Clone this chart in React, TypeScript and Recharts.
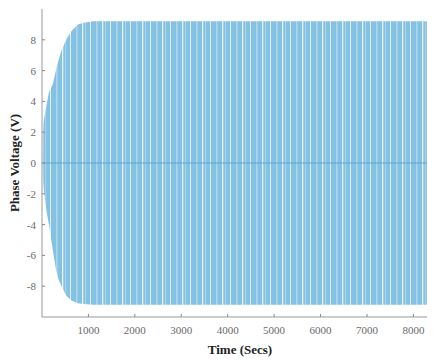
import React from 'react'
import { ComposedChart, Area, XAxis, YAxis, ReferenceLine } from 'recharts'

// envelope of the phase voltage (V)
const timeSecs = [0, 30, 100, 150, 230, 300, 350, 420, 520, 620, 770, 900, 1100, 1500, 2000, 3000, 4000, 5000, 6000, 7000, 8000, 8600]
const upperEnv = [0, 2.6, 3.8, 4.6, 5.1, 6.0, 6.6, 7.3, 8.0, 8.5, 9.0, 9.1, 9.2, 9.2, 9.2, 9.2, 9.2, 9.2, 9.2, 9.2, 9.2, 9.2]
const lowerEnv = [0, -1.5, -3.2, -4.0, -5.6, -6.9, -7.5, -8.0, -8.6, -8.9, -9.1, -9.15, -9.2, -9.2, -9.2, -9.2, -9.2, -9.2, -9.2, -9.2, -9.2, -9.2]

const xTicks = [1000, 2000, 3000, 4000, 5000, 6000, 7000, 8000]
const yTicks = [-8, -6, -4, -2, 0, 2, 4, 6, 8]

const data = timeSecs.map((t, i) => ({ t, range: [lowerEnv[i], upperEnv[i]] }))

const tickStyle = { fontSize: 11, fill: '#6a6a6a', fontFamily: '"Liberation Serif", serif' }
const titleStyle = { fontSize: 13, fontWeight: 'bold', fill: '#222', fontFamily: '"Liberation Serif", serif' }

export default function App() {
  return (
    <div style={{ width: 427, height: 352, overflow: 'hidden' }}>
      <ComposedChart width={430} height={352} data={data} margin={{ top: 1, right: 0, left: 0, bottom: 0 }}>
        <defs>
          <pattern id="stripes" patternUnits="userSpaceOnUse" width="20" height="10">
            <rect x="0" y="0" width="20" height="10" fill="#84c1e2" />
            <rect x="2" y="0" width="1" height="10" fill="#dcf0fa" />
            <rect x="8.5" y="0" width="0.8" height="10" fill="#d2ebf8" />
            <rect x="14" y="0" width="1.3" height="10" fill="#e4f4fc" />
            <rect x="17.5" y="0" width="0.6" height="10" fill="#c8e6f6" />
          </pattern>
        </defs>
        <XAxis
          dataKey="t"
          type="number"
          domain={[0, 8530]}
          ticks={xTicks}
          allowDataOverflow
          height={43}
          tick={tickStyle}
          tickSize={-3}
          tickMargin={12}
          axisLine={{ stroke: '#999' }}
          tickLine={{ stroke: '#888' }}
          label={{ value: 'Time (Secs)', position: 'insideBottom', offset: 6, style: titleStyle }}
        />
        <XAxis
          xAxisId="top"
          dataKey="t"
          type="number"
          orientation="top"
          domain={[0, 8530]}
          ticks={xTicks}
          allowDataOverflow
          height={0}
          tick={false}
          tickSize={-3}
          axisLine={{ stroke: '#999' }}
          tickLine={{ stroke: '#888' }}
        />
        <YAxis
          type="number"
          domain={[-10, 10]}
          ticks={yTicks}
          width={34}
          tick={tickStyle}
          tickSize={-3}
          tickMargin={9}
          axisLine={{ stroke: '#999' }}
          tickLine={{ stroke: '#888' }}
          label={{ value: 'Phase Voltage (V)', angle: -90, position: 'insideLeft', offset: 0, dx: 6, style: { ...titleStyle, textAnchor: 'middle' } }}
        />
        <Area
          dataKey="range"
          type="linear"
          stroke="none"
          fill="url(#stripes)"
          fillOpacity={1}
          isAnimationActive={false}
        />
        <ReferenceLine y={0} stroke="#5fa6d2" strokeWidth={1} />
      </ComposedChart>
    </div>
  )
}
